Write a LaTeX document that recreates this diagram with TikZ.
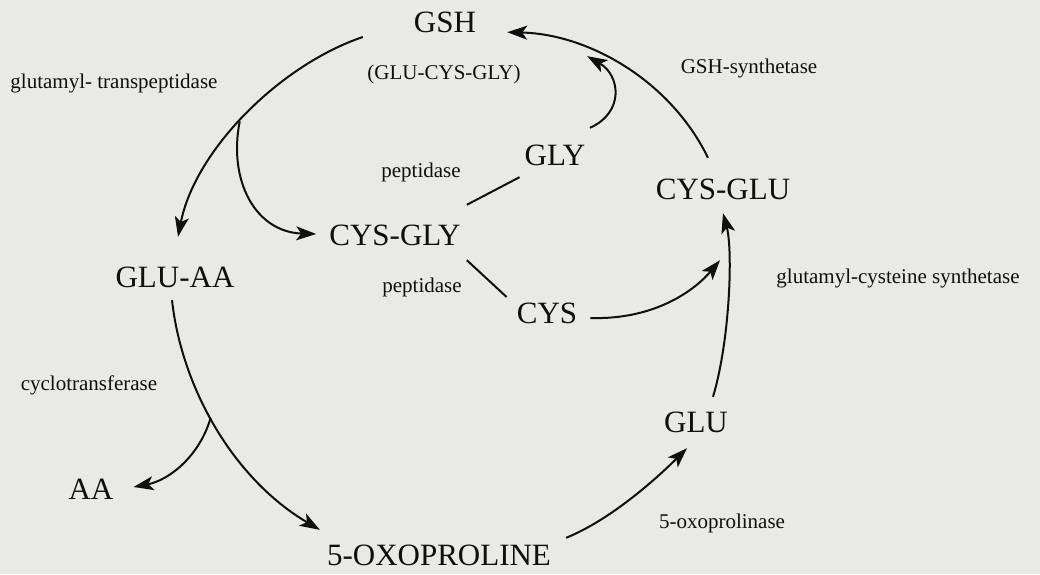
\documentclass[tikz,border=0pt]{standalone}
\usepackage{fontspec}
\setmainfont{Liberation Serif}
\usetikzlibrary{arrows.meta,calc}
\definecolor{bgc}{RGB}{233,234,229}
\definecolor{ink}{RGB}{15,15,15}
\tikzset{
  big/.style={font=\fontsize{31}{36}\selectfont, anchor=base, inner sep=0pt, text height=22pt, text depth=0pt, text=ink},
  small/.style={font=\fontsize{21}{25}\selectfont, anchor=base, inner sep=0pt, text=ink},
  conn/.style={draw=ink, line width=2pt},
  arr/.style={conn, -{Stealth[length=20pt,width=14pt,inset=5pt]}}
}
\begin{document}
\begin{tikzpicture}[x=1pt,y=-1pt]
\fill[bgc] (0,0) rectangle (1040,574);
\useasboundingbox (0,0) rectangle (1040,574);
% main compounds
\node[big] (gsh) at (445,32) {GSH};
\node[big] (glyn) at (555,165) {GLY};
\node[big] (cysglu) at (723,199) {CYS-GLU};
\node[big] (cysgly) at (395,245) {CYS-GLY};
\node[big] (gluaa) at (175,287) {GLU-AA};
\node[big] (cys) at (547,323) {CYS};
\node[big] (aa) at (91,499) {AA};
\node[big] (oxo) at (439,565) {5-OXOPROLINE};
\node[big] (glu) at (696,432) {GLU};
% enzyme labels
\node[small] (l1) at (444,79) {(GLU-CYS-GLY)};
\node[small] (l2) at (114,88) {glutamyl- transpeptidase};
\node[small] (l3) at (749,73) {GSH-synthetase};
\node[small] (l4) at (421,177) {peptidase};
\node[small] (l5) at (422,292) {peptidase};
\node[small] (l6) at (898,283) {glutamyl-cysteine synthetase};
\node[small] (l7) at (89,390) {cyclotransferase};
\node[small] (l8) at (722,528) {5-oxoprolinase};
% connectors
\draw[arr] ($(cysglu.north)+(-15,-19)$) .. controls (670,80) and (588,34) .. ($(gsh.south east)+(31,0)$);
\draw[arr] ($(glyn.north)+(35,-15)$) .. controls (625,112) and (620,75) .. ($(gsh.south east)+(111,24)$);
\draw[arr] ($(gsh.west)+(-51,16)$) .. controls (280,65) and (195,150) .. ($(gluaa.north)+(3,-28)$) coordinate[pos=0.53] (b1);
\draw[arr] (b1) .. controls (228,180) and (255,232) .. ($(cysgly.west)+(-13,0)$);
\draw[conn] ($(cysgly.north east)+(6,-18)$) -- ($(glyn.south west)+(-5,12)$);
\draw[conn] ($(cysgly.south east)+(6,15)$) -- ($(cys.west)+(-10,-15)$);
\draw[arr] ($(cys.east)+(13,6)$) .. controls (655,320) and (695,290) .. ($(cysglu.south)+(-3,61)$);
\draw[arr] ($(glu.north)+(17,-13)$) .. controls (730,340) and (733,250) .. ($(cysglu.south)+(0,14)$);
\draw[arr] ($(gluaa.south)+(-3,13)$) .. controls (182,390) and (235,480) .. ($(oxo.north west)+(-7,-13)$) coordinate[pos=0.45] (b2);
\draw[arr] (b2) .. controls (200,455) and (170,480) .. ($(aa.east)+(20,-1)$);
\draw[arr] ($(oxo.north east)+(15,-5)$) .. controls (610,520) and (655,480) .. ($(glu.south)+(-9,16)$);
\end{tikzpicture}
\end{document}
